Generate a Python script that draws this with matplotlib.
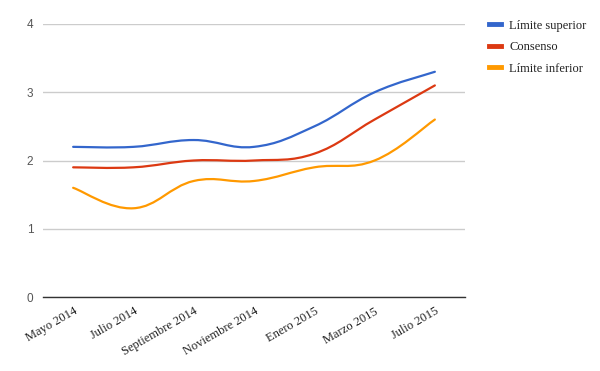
import numpy as np
import matplotlib
matplotlib.use("Agg")
import matplotlib.pyplot as plt
from matplotlib.path import Path
from matplotlib.patches import PathPatch
from matplotlib.lines import Line2D

months = ["Mayo 2014", "Julio 2014", "Septiembre 2014", "Noviembre 2014",
          "Enero 2015", "Marzo 2015", "Julio 2015"]
limite_superior = [2.2, 2.2, 2.3, 2.2, 2.5, 3.0, 3.3]
consenso = [1.9, 1.9, 2.0, 2.0, 2.1, 2.6, 3.1]
limite_inferior = [1.6, 1.3, 1.7, 1.7, 1.9, 2.0, 2.6]

series = [
    ("Límite superior", limite_superior, "#3366CC"),
    ("Consenso", consenso, "#DC3912"),
    ("Límite inferior", limite_inferior, "#FF9900"),
]


def smooth_path(x, y, k=0.2):
    # cubic bezier through the points (cardinal-spline control points)
    x = np.asarray(x, float)
    y = np.asarray(y, float)
    verts = [(x[0], y[0])]
    codes = [Path.MOVETO]
    n = len(x)
    for i in range(n - 1):
        i0 = max(i - 1, 0)
        i3 = min(i + 2, n - 1)
        c1 = (x[i] + k * (x[i + 1] - x[i0]), y[i] + k * (y[i + 1] - y[i0]))
        c2 = (x[i + 1] - k * (x[i3] - x[i]), y[i + 1] - k * (y[i3] - y[i]))
        verts += [c1, c2, (x[i + 1], y[i + 1])]
        codes += [Path.CURVE4] * 3
    return Path(verts, codes)


fig = plt.figure(figsize=(6, 3.71), dpi=100)
ax = fig.add_axes([43 / 600, 1 - 297 / 371, 422 / 600, 273 / 371])

xs = np.arange(len(months))
for name, vals, color in series:
    patch = PathPatch(smooth_path(xs, vals), facecolor="none", edgecolor=color,
                      lw=1.6, capstyle="round", zorder=3)
    ax.add_patch(patch)

ax.set_xlim(-0.5, len(months) - 0.5)
ax.set_ylim(0, 4)
ax.set_yticks([0, 1, 2, 3, 4])
ax.set_xticks(xs)
ax.set_xticklabels(months, rotation=30, ha="right", rotation_mode="anchor",
                   family="Liberation Serif", fontsize=9, color="#222222")
for lab in ax.get_yticklabels():
    lab.set_family("Liberation Sans")
    lab.set_fontsize(8.5)
    lab.set_color("#555555")

ax.grid(axis="y", color="#cccccc", lw=1)
ax.set_axisbelow(True)
for s in ["top", "right", "left"]:
    ax.spines[s].set_visible(False)
ax.spines["bottom"].set_color("#333333")
ax.spines["bottom"].set_linewidth(1)
ax.spines["bottom"].set_zorder(4)
ax.tick_params(axis="both", length=0)
ax.tick_params(axis="y", pad=7)
ax.tick_params(axis="x", pad=6)

handles = [Line2D([], [], color=c, lw=3.5) for _, _, c in series]
labels = [n for n, _, _ in series]
fig.legend(handles, labels, loc="upper left", bbox_to_anchor=(0.797, 0.977),
           frameon=False, handlelength=0.9, handletextpad=0.7, labelspacing=0.75,
           prop={"family": "Liberation Serif", "size": 9}, labelcolor="#222222")

fig.savefig("out.png", dpi=100)
